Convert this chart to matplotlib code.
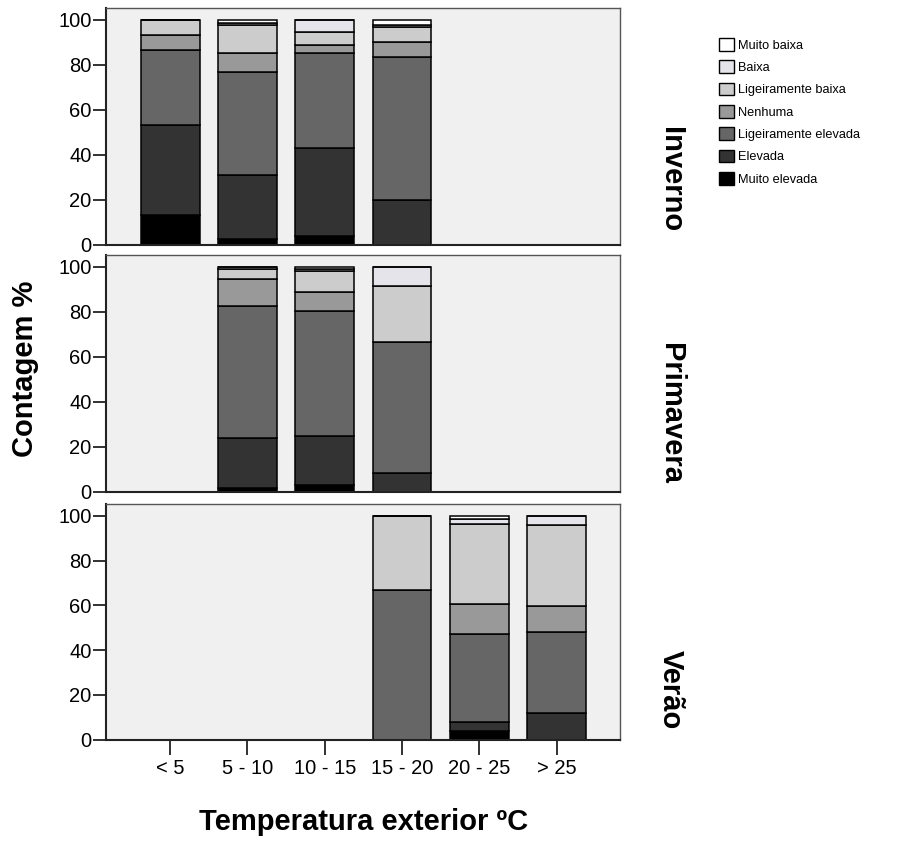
import numpy as np
import matplotlib
matplotlib.use("Agg")
import matplotlib.pyplot as plt
from matplotlib.patches import Patch

# ── Data (% within each temperature class) ────────────────────────────────────
categories = ["< 5", "5 - 10", "10 - 15", "15 - 20", "20 - 25", "> 25"]

# stacking order, bottom → top
levels = ["Muito elevada", "Elevada", "Ligeiramente elevada", "Nenhuma",
          "Ligeiramente baixa", "Baixa", "Muito baixa"]
colors = ["#000000", "#333333", "#666666", "#999999",
          "#cccccc", "#e4e4ea", "#ffffff"]

#                 <5    5-10  10-15 15-20 20-25  >25
inverno = [
    [13.3,  2.5,  3.6,  0.0,  0.0,  0.0],   # Muito elevada
    [40.0, 28.6, 39.4, 20.0,  0.0,  0.0],   # Elevada
    [33.3, 45.5, 42.4, 63.3,  0.0,  0.0],   # Ligeiramente elevada
    [ 6.7,  8.5,  3.3,  6.7,  0.0,  0.0],   # Nenhuma
    [ 6.7, 12.5,  5.8,  6.7,  0.0,  0.0],   # Ligeiramente baixa
    [ 0.0,  1.2,  5.5,  1.1,  0.0,  0.0],   # Baixa
    [ 0.0,  1.2,  0.0,  2.2,  0.0,  0.0],   # Muito baixa
]
primavera = [
    [ 0.0,  1.8,  3.0,  0.0,  0.0,  0.0],
    [ 0.0, 22.0, 22.0,  8.3,  0.0,  0.0],
    [ 0.0, 58.7, 55.6, 58.4,  0.0,  0.0],
    [ 0.0, 12.1,  8.3,  0.0,  0.0,  0.0],
    [ 0.0,  4.4,  9.3, 25.0,  0.0,  0.0],
    [ 0.0,  1.0,  1.0,  8.3,  0.0,  0.0],
    [ 0.0,  0.0,  0.8,  0.0,  0.0,  0.0],
]
verao = [
    [ 0.0,  0.0,  0.0,  0.0,  3.7,  0.0],
    [ 0.0,  0.0,  0.0,  0.0,  4.2, 11.8],
    [ 0.0,  0.0,  0.0, 66.7, 39.3, 36.2],
    [ 0.0,  0.0,  0.0,  0.0, 13.3, 11.5],
    [ 0.0,  0.0,  0.0, 33.3, 35.9, 36.4],
    [ 0.0,  0.0,  0.0,  0.0,  2.2,  4.1],
    [ 0.0,  0.0,  0.0,  0.0,  1.4,  0.0],
]
seasons = ["Inverno", "Primavera", "Verão"]
season_data = [inverno, primavera, verao]

# ── Layout ────────────────────────────────────────────────────────────────────
plt.rcParams["font.family"] = ["Liberation Sans", "DejaVu Sans"]

W, H = 923, 841
fig = plt.figure(figsize=(W / 100, H / 100), dpi=100)
fig.patch.set_facecolor("white")

PANEL_BG = "#f0f0f0"
AX_COL   = "#222222"

# panel boxes in pixels: (top, bottom)
panels_px  = [(8, 244.5), (255, 491.7), (504, 739.5)]
left_px, right_px = 106, 620
label_y_px = [180, 414, 690]

x = np.arange(len(categories))

for i, (season, data) in enumerate(zip(seasons, season_data)):
    top, bot = panels_px[i]
    ax = fig.add_axes([left_px / W, 1 - bot / H,
                       (right_px - left_px) / W, (bot - top) / H])
    ax.set_facecolor(PANEL_BG)

    bottom = np.zeros(len(categories))
    for lvl, col, vals in zip(levels, colors, data):
        vals = np.array(vals)
        ax.bar(x, vals, width=0.76, bottom=bottom, color=col,
               edgecolor="black", linewidth=1.1)
        bottom += vals

    ax.set_xlim(-0.83, 5.82)
    ax.set_ylim(0, 105.3)
    ax.set_yticks(range(0, 101, 20))
    ax.tick_params(axis="y", direction="out", length=9.5, width=1.3,
                   color=AX_COL, pad=1, labelsize=14.5)

    for sp in ax.spines.values():
        sp.set_edgecolor("#555555")
        sp.set_linewidth(1.0)
    for side in ("left", "bottom"):
        ax.spines[side].set_edgecolor(AX_COL)
        ax.spines[side].set_linewidth(1.5)

    if i == len(seasons) - 1:
        ax.set_xticks(x)
        ax.set_xticklabels(categories)
        ax.tick_params(axis="x", direction="out", length=11, width=1.3,
                       color=AX_COL, pad=3, labelsize=14.5)
    else:
        ax.set_xticks([])

    fig.text(671 / W, 1 - label_y_px[i] / H, season, rotation=-90,
             ha="center", va="center", fontsize=21, fontweight="bold")

# ── Axis titles ───────────────────────────────────────────────────────────────
fig.text(25 / W, 1 - 369 / H, "Contagem %", rotation=90,
         ha="center", va="center", fontsize=21, fontweight="bold")
fig.text(364 / W, 1 - 822 / H, "Temperatura exterior ºC",
         ha="center", va="center", fontsize=21, fontweight="bold")

# ── Legend (top entry = last stacked level) ───────────────────────────────────
handles = [Patch(facecolor=c, edgecolor="black", linewidth=1.0)
           for c in colors[::-1]]
fig.legend(handles, levels[::-1], loc="upper left",
           bbox_to_anchor=(719 / W, 1 - 38 / H), frameon=False,
           fontsize=9.2, handlelength=1.15, handleheight=1.15,
           handletextpad=0.3, labelspacing=0.68, borderaxespad=0,
           borderpad=0)

plt.savefig("out.png", dpi=100, facecolor=fig.get_facecolor())
